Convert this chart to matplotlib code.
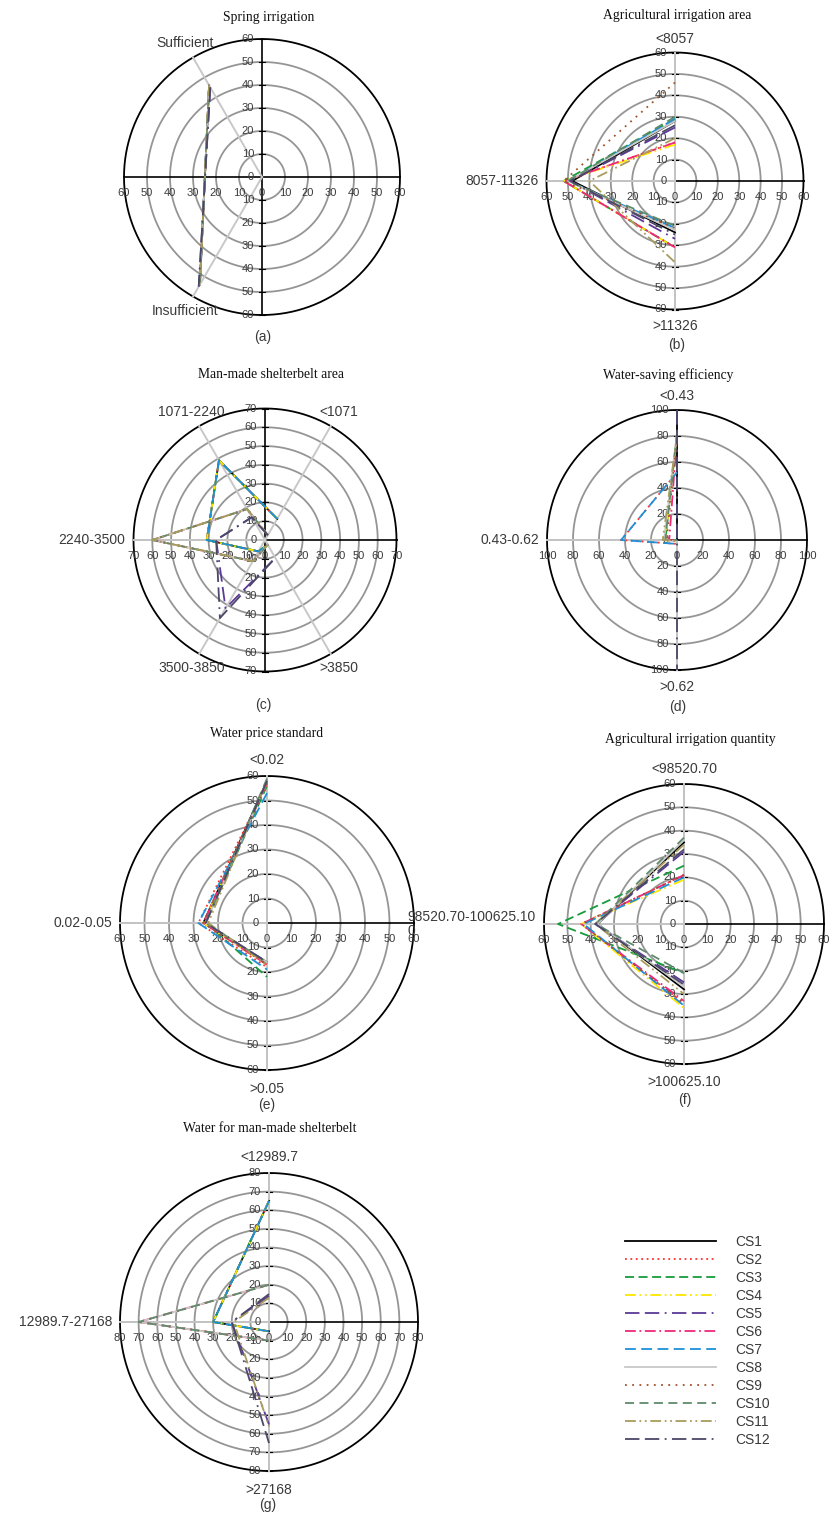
import numpy as np
import matplotlib
matplotlib.use('Agg')
import matplotlib.pyplot as plt
from matplotlib.lines import Line2D

# ---------------- data ----------------
series_names = ['CS1', 'CS2', 'CS3', 'CS4', 'CS5', 'CS6',
                'CS7', 'CS8', 'CS9', 'CS10', 'CS11', 'CS12']

# (a) Spring irrigation
a_title = 'Spring irrigation'
a_cats = ['Sufficient', 'Insufficient']
a_angles = [120, 240]
a_values = [[46, 54], [46, 54], [46, 54], [46, 54], [45, 55], [46, 54],
            [46, 54], [46, 54], [46, 54], [46, 54], [46, 54], [45, 55]]

# (b) Agricultural irrigation area
b_title = 'Agricultural irrigation area'
b_cats = ['<8057', '8057-11326', '>11326']
b_angles = [90, 180, 270]
b_values = [[28, 48, 24], [18, 52, 31], [29, 52, 31], [17, 52, 31],
            [25, 49, 27], [18, 52, 31], [29, 50, 22], [28, 50, 23],
            [46, 52, 22], [30, 50, 21], [20, 40, 38], [26, 49, 25]]

# (c) Man-made shelterbelt area
c_title = 'Man-made shelterbelt area'
c_cats = ['<1071', '1071-2240', '2240-3500', '3500-3850', '>3850']
c_angles = [60, 120, 180, 240, 300]
c_values = [[13, 49, 31, 7, 3], [13, 49, 31, 7, 3], [13, 49, 31, 7, 3],
            [13, 49, 31, 7, 3], [3, 14, 26, 42, 11], [3, 19, 60, 13, 3],
            [13, 49, 31, 7, 3], [3, 19, 60, 13, 3], [3, 19, 60, 13, 3],
            [3, 19, 60, 13, 3], [3, 19, 60, 13, 3], [3, 14, 26, 48, 11]]

# (d) Water-saving efficiency
d_title = 'Water-saving efficiency'
d_cats = ['<0.43', '0.43-0.62', '>0.62']
d_angles = [90, 180, 270]
d_values = [[100, 0, 0], [52, 43, 3], [82, 9, 0], [82, 9, 1],
            [100, 0, 0], [80, 6, 0], [52, 43, 3], [82, 10, 1],
            [80, 8, 0], [82, 9, 0], [80, 11, 1], [100, 0, 100]]

# (e) Water price standard
e_title = 'Water price standard'
e_cats = ['<0.02', '0.02-0.05', '>0.05']
e_angles = [90, 180, 270]
e_values = [[58, 26, 16], [57, 28, 18], [56, 25, 22], [57, 26, 17],
            [58, 25, 16], [57, 26, 17], [53, 28, 19], [58, 25, 16],
            [57, 26, 17], [59, 25, 16], [58, 24, 17], [58, 25, 16]]

# (f) Agricultural irrigation quantity
f_title = 'Agricultural irrigation quantity'
f_cats = ['<98520.70', '98520.70-100625.10\n0', '>100625.10']
f_angles = [90, 180, 270]
f_values = [[35, 37, 28], [21, 44, 34], [25, 54, 21], [19, 44, 36],
            [31, 38, 25], [21, 44, 33], [20, 43, 35], [36, 37, 27],
            [21, 44, 34], [37, 38, 21], [34, 38, 30], [32, 38, 26]]

# (g) Water for man-made shelterbelt
g_title = 'Water for man-made shelterbelt'
g_cats = ['<12989.7', '12989.7-27168', '>27168']
g_angles = [90, 180, 270]
g_values = [[65, 30, 5], [65, 30, 5], [65, 30, 5], [65, 30, 5],
            [14, 20, 55], [20, 70, 10], [65, 30, 5], [20, 70, 10],
            [20, 70, 10], [20, 70, 10], [13, 19, 56], [15, 20, 65]]

# ---------------- styles ----------------
colors = ['#000000', '#ff3030', '#179b3c', '#ffe600', '#5c3a96', '#f0287a',
          '#1e90d8', '#c8c8c8', '#a0522d', '#5f8a6c', '#a89c5c', '#4b4868']
dashes = ['-', (0, (1, 2)), (0, (5, 2.5)), (0, (6, 2, 1, 2, 1, 2)),
          (0, (8, 3, 8, 3, 1, 3)), (0, (6, 2, 1, 2)), (0, (6, 3)), '-',
          (0, (1, 3)), (0, (5, 3)), (0, (6, 2, 1, 2, 1, 2)),
          (0, (8, 3, 8, 3, 1, 3))]

W, H, DPI = 831, 1515, 100
TXT = '#3a3a3a'
SANS = ['Liberation Sans', 'DejaVu Sans']
SERIF = ['Liberation Serif', 'DejaVu Serif']

fig = plt.figure(figsize=(W / DPI, H / DPI), dpi=DPI)
fig.patch.set_facecolor('white')

panels = [
    dict(t=a_title, cats=a_cats, ang=a_angles, vals=a_values, letter='(a)',
         cx=262, cy=177, R=138, rmax=60, step=10, ty=17, tx=269, ly=337, lx=263),
    dict(t=b_title, cats=b_cats, ang=b_angles, vals=b_values, letter='(b)',
         cx=675, cy=181, R=128.5, rmax=60, step=10, ty=15, tx=677, ly=345, lx=677),
    dict(t=c_title, cats=c_cats, ang=c_angles, vals=c_values, letter='(c)',
         cx=265, cy=540, R=131.5, rmax=70, step=10, ty=375, tx=271, ly=705, lx=263),
    dict(t=d_title, cats=d_cats, ang=d_angles, vals=d_values, letter='(d)',
         cx=677, cy=540, R=130, rmax=100, step=20, ty=375, tx=668, ly=707, lx=678),
    dict(t=e_title, cats=e_cats, ang=e_angles, vals=e_values, letter='(e)',
         cx=267, cy=923, R=147, rmax=60, step=10, ty=733, tx=267, ly=1105, lx=267),
    dict(t=f_title, cats=f_cats, ang=f_angles, vals=f_values, letter='(f)',
         cx=684, cy=924, R=140, rmax=60, step=10, ty=740, tx=690, ly=1100, lx=685),
    dict(t=g_title, cats=g_cats, ang=g_angles, vals=g_values, letter='(g)',
         cx=269, cy=1322, R=149, rmax=80, step=10, ty=1129, tx=270, ly=1505, lx=268),
]

theta = np.linspace(0, 2 * np.pi, 721)

for p in panels:
    cx, cy, R, rmax, step = p['cx'], p['cy'], p['R'], p['rmax'], p['step']
    ax = fig.add_axes([(cx - R) / W, 1 - (cy + R) / H, 2 * R / W, 2 * R / H])
    ax.set_xlim(-rmax, rmax)
    ax.set_ylim(-rmax, rmax)
    ax.axis('off')
    u = rmax / R  # data units per pixel

    # concentric grid circles
    for v in range(step, rmax, step):
        ax.plot(v * np.cos(theta), v * np.sin(theta), color='#959595',
                lw=1.3, clip_on=False, zorder=1)
    ax.plot(rmax * np.cos(theta), rmax * np.sin(theta), color='black',
            lw=1.3, clip_on=False, zorder=2)
    # black cross axes
    ax.plot([-rmax, rmax], [0, 0], color='black', lw=1.2, clip_on=False, zorder=2)
    ax.plot([0, 0], [-rmax, rmax], color='black', lw=1.2, clip_on=False, zorder=2)
    for v in range(step, rmax + 1, step):
        for s in (1, -1):
            ax.plot([-3 * u, 3 * u], [s * v, s * v], color='black', lw=0.8,
                    clip_on=False, zorder=2)
    # category spokes
    for a in p['ang']:
        r = np.radians(a)
        ax.plot([0, rmax * np.cos(r)], [0, rmax * np.sin(r)], color='#c8c8c8',
                lw=1.4, clip_on=False, zorder=3)

    # tick labels
    for v in range(0, rmax + 1, step):
        ax.text(-8 * u, v, str(v), ha='right', va='center', fontsize=8,
                color=TXT, family=SANS, zorder=4)
        if v > 0:
            ax.text(-8 * u, -v, str(v), ha='right', va='center', fontsize=8,
                    color=TXT, family=SANS, zorder=4)
    for v in range(-rmax, rmax + 1, step):
        ax.text(v, -16 * u, str(abs(v)), ha='center', va='center', fontsize=8,
                color=TXT, family=SANS, zorder=4)

    # category labels
    for name, a in zip(p['cats'], p['ang']):
        r = np.radians(a)
        if a == 180:
            ax.text(-rmax - 8 * u, 0, name, ha='right', va='center',
                    multialignment='left', fontsize=10, color=TXT,
                    family=SANS, linespacing=1.0)
        else:
            k = 1.108 if a == 90 else (1.128 if a == 270 else 1.12)
            ax.text(k * rmax * np.cos(r), k * rmax * np.sin(r), name,
                    ha='center', va='center', fontsize=10, color=TXT, family=SANS)

    # data series
    ang = np.radians(p['ang'])
    for i, vals in enumerate(p['vals']):
        vals = np.asarray(vals, dtype=float)
        ax.plot(vals * np.cos(ang), vals * np.sin(ang), color=colors[i],
                linestyle=dashes[i], lw=1.3, clip_on=False, zorder=5 + i * 0.01)

    fig.text(p['tx'] / W, 1 - p['ty'] / H, p['t'], ha='center', va='center',
             fontsize=9.8, family=SERIF, color='#111111')
    fig.text(p['lx'] / W, 1 - p['ly'] / H, p['letter'], ha='center', va='center',
             fontsize=10, family=SANS, color=TXT)

# legend
handles = [Line2D([], [], color=colors[i], linestyle=dashes[i], lw=1.3)
           for i in range(len(series_names))]
fig.legend(handles, series_names, loc='upper left',
           bbox_to_anchor=(612 / W, 1 - 1222 / H), frameon=False,
           handlelength=6.6, labelspacing=0.29, handletextpad=1.4,
           prop={'family': SANS, 'size': 10}, labelcolor=TXT)

fig.savefig('out.png', dpi=DPI, facecolor='white')
